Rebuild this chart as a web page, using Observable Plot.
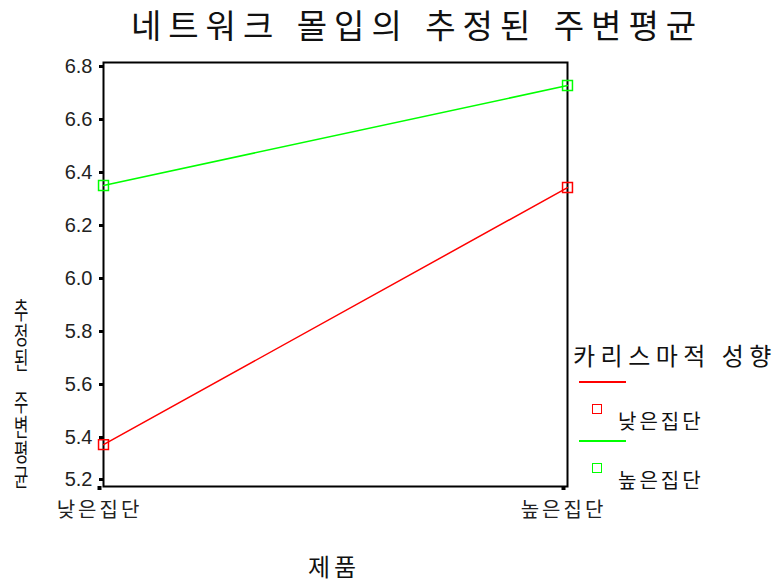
<!DOCTYPE html>
<html>
<head>
<meta charset="utf-8">
<script src="https://cdn.jsdelivr.net/npm/d3@7"></script>
<script src="https://cdn.jsdelivr.net/npm/@observablehq/plot@0.6"></script>
<style>
  body { margin: 0; background: #fff; }
  #wrap { position: relative; width: 780px; height: 583px; overflow: hidden; }
  #wrap svg { position: absolute; left: 0; top: 0; }
  #wrap svg [aria-label="x-axis tick label"] text { letter-spacing: 3px; }
  .kr { position: absolute; font-family: "Noto Sans CJK KR", sans-serif; color: #111; white-space: nowrap; line-height: 1; }
  .title { left: 417px; top: 8px; transform: translateX(-50%); font-size: 33px; letter-spacing: 7px; word-spacing: 2px; }
  .xlab { left: 334px; top: 554px; transform: translateX(-50%); font-size: 24px; letter-spacing: 4px; }
  .ylab { left: 13px; top: 298px; font-size: 24px; writing-mode: vertical-rl; text-orientation: upright; letter-spacing: 1px; word-spacing: -8px; transform: scaleX(0.65); transform-origin: left top; }
  .legtitle { left: 573px; top: 343px; font-size: 24px; letter-spacing: 5.5px; word-spacing: 0px; }
  .legline { position: absolute; left: 579px; width: 47px; height: 0; border-top: 2px solid; }
  .legsq { position: absolute; left: 592px; width: 8px; height: 8px; border: 1.5px solid; }
  .leglab { left: 618px; font-size: 20px; letter-spacing: 3px; }
</style>
</head>
<body>
<div id="wrap"></div>
<script>
// 제품 (x categories)
const products = ["낮은집단", "높은집단"];
// 카리스마적 성향 groups (series)
const seriesNames = ["낮은집단", "높은집단"];
const seriesColors = ["#ff0000", "#00ff00"];
// estimated marginal means of 네트워크 몰입
const lowCharisma = [5.358, 6.328];
const highCharisma = [6.336, 6.713];
const yTicks = [5.2, 5.4, 5.6, 5.8, 6.0, 6.2, 6.4, 6.6, 6.8];

const rows = [];
[lowCharisma, highCharisma].forEach((vals, si) => {
  vals.forEach((v, i) => rows.push({ product: products[i], series: seriesNames[si], value: v }));
});

const numFont = "Liberation Sans, Arial, sans-serif";
const yAxisOpts = {
  tickSize: 4, strokeWidth: 3, tickPadding: 7,
  tickFormat: d => d.toFixed(1), fontSize: 20, fontFamily: numFont,
  fill: "#222", label: null
};

const chart = Plot.plot({
  width: 780,
  height: 583,
  marginLeft: 103,
  marginRight: 213,
  marginTop: 62,
  marginBottom: 97,
  x: { type: "point", domain: products, padding: 0, axis: null },
  y: { domain: [5.2, 6.8], axis: null },
  color: { domain: seriesNames, range: seriesColors },
  marks: [
    Plot.frame({ stroke: "black", strokeWidth: 2 }),
    // the lowest tick label sits a little above its tick
    Plot.axisY(yTicks.slice(1), { ...yAxisOpts, dy: 4 }),
    Plot.axisY(yTicks.slice(0, 1), { ...yAxisOpts, dy: -7 }),
    Plot.axisX({
      tickSize: 4, strokeWidth: 4, tickPadding: 12, dx: -4,
      fontSize: 20, fontFamily: "Noto Sans CJK KR, sans-serif", fill: "#222", label: null
    }),
    Plot.line(rows, { x: "product", y: "value", z: "series", stroke: "series", strokeWidth: 1.5 }),
    Plot.dot(rows, { x: "product", y: "value", stroke: "series", symbol: "square", r: 5.6, strokeWidth: 1.5, fill: "none" })
  ]
});

const wrap = document.getElementById("wrap");
wrap.appendChild(chart);

function addDiv(cls, text, style) {
  const d = document.createElement("div");
  d.className = cls;
  if (text) d.textContent = text;
  Object.assign(d.style, style || {});
  wrap.appendChild(d);
  return d;
}

addDiv("kr title", "네트워크 몰입의 추정된 주변평균");
addDiv("kr xlab", "제품");
addDiv("kr ylab", "추정된 주변평균");

addDiv("kr legtitle", "카리스마적 성향");
const legY = [382, 441];
seriesNames.forEach((name, i) => {
  addDiv("legline", null, { top: (legY[i] - 1) + "px", borderColor: seriesColors[i] });
  addDiv("legsq", null, { top: (legY[i] + 22) + "px", borderColor: seriesColors[i] });
  addDiv("kr leglab", name, { top: (legY[i] + 29) + "px" });
});
</script>
</body>
</html>
